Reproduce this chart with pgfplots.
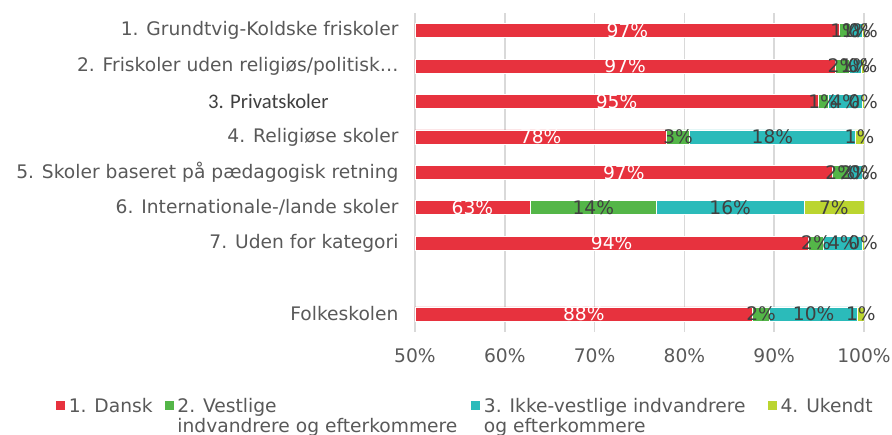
\documentclass[border=0pt]{standalone}
\usepackage{fontspec}
\setmainfont{DejaVu Sans}
\newfontfamily\carlito{Carlito}
\usepackage{pgfplots}
\usepackage{pgfplotstable}
\pgfplotsset{compat=1.18}

\definecolor{cDan}{HTML}{E7323E}
\definecolor{cVest}{HTML}{54B648}
\definecolor{cIkke}{HTML}{2BBBBA}
\definecolor{cUkendt}{HTML}{BBD530}
\definecolor{gridgray}{HTML}{D9D9D9}
\definecolor{txtgray}{HTML}{595959}
\definecolor{lblgray}{HTML}{404040}

% shares in percent, row 9 = top (1. Grundtvig), row 1 = Folkeskolen
\pgfplotstableread{
y dan  vest ikke ukendt
9 97.3 1.2  1.3  0.2
8 96.8 1.6  1.3  0.3
7 94.9 1.1  3.8  0.2
6 78.0 2.6  18.4 1.0
5 96.5 1.7  1.6  0.2
4 62.8 14.1 16.4 6.7
3 93.8 1.7  4.3  0.2
1 87.6 1.9  9.8  0.7
}\shares

% label positions (centre of the visible segment) and label text
\pgfplotstableread{
y xd    td xv    tv xi    ti xu    tu
9 73.65 97 97.9  1  99.15 1  99.9  0
8 73.4  97 97.6  2  99.05 1  99.85 0
7 72.45 95 95.45 1  97.9  4  99.9  0
6 64.0  78 79.3  3  89.8  18 99.5  1
5 73.25 97 97.35 2  99.0  2  99.9  0
4 56.4  63 69.85 14 85.1  16 96.65 7
3 71.9  94 94.65 2  97.65 4  99.9  0
1 68.8  88 88.55 2  94.4  10 99.65 1
}\labels

\begin{document}
\begin{tikzpicture}
\pgfplotsset{
  base/.style={scale only axis, width=449pt, height=318.5pt,
    xmin=50, xmax=100, ymin=0.5, ymax=9.5,
    at={(0,0)}, anchor=south west},
  lbl/.style={draw=none, nodes near coords={\pgfplotspointmeta\%},
    point meta=explicit symbolic,
    every node near coord/.append style={anchor=center, inner sep=0pt,
      font=\fontsize{18.67}{22}\selectfont, text=#1}},
}
\begin{axis}[base,
  xbar stacked, bar width=14pt,
  axis line style={draw=none}, major tick length=0pt,
  xmajorgrids, grid style={line width=1.5pt, gridgray},
  xtick={50,60,...,100},
  xticklabel={\pgfmathprintnumber{\tick}\%},
  /pgf/number format/assume math mode=true,
  ytick={1,3,4,5,6,7,8,9},
  yticklabels={Folkeskolen, 7. Uden for kategori, 6. Internationale-/lande skoler,
    5. Skoler baseret på pædagogisk retning, 4. Religiøse skoler,
    {\carlito\fontsize{20.7}{24}\selectfont\color{lblgray}3. Privatskoler\rule{70pt}{0pt}},
    2. Friskoler uden religiøs/politisk…, 1. Grundtvig-Koldske friskoler},
  tick label style={font=\fontsize{18.67}{22}\selectfont, text=txtgray},
  xticklabel style={yshift=-14pt},
  yticklabel style={xshift=-13pt},
  legend columns=4,
  legend style={at={(-0.8018,-0.2015)}, anchor=north west, draw=none,
    font=\fontsize{18.67}{20}\selectfont, text=txtgray,
    inner sep=0pt, column sep=0pt, cells={anchor=base west, inner sep=0pt}},
  legend image code/.code={\fill[#1] (0pt,2pt) rectangle (10pt,12pt);},
]
\addplot[fill=cDan, draw=white, line width=0.6pt] table[x=dan, y=y] {\shares};
\addlegendentry{\hspace{1pt}\makebox[93pt][l]{1. Dansk}}
\addplot[fill=cVest, draw=white, line width=0.6pt] table[x=vest, y=y] {\shares};
\addlegendentry{\hspace{1pt}\parbox[t]{291pt}{2. Vestlige\\indvandrere og efterkommere}}
\addplot[fill=cIkke, draw=white, line width=0.6pt] table[x=ikke, y=y] {\shares};
\addlegendentry{\hspace{1pt}\parbox[t]{281pt}{3. Ikke-vestlige indvandrere\\og efterkommere}}
\addplot[fill=cUkendt, draw=white, line width=0.6pt] table[x=ukendt, y=y] {\shares};
\addlegendentry{\hspace{1pt}4. Ukendt}
\end{axis}
\begin{axis}[base, hide axis, clip=false]
\addplot[lbl=white] table[x=xd, y=y, meta=td] {\labels};
\addplot[lbl=lblgray] table[x=xv, y=y, meta=tv] {\labels};
\addplot[lbl=lblgray] table[x=xi, y=y, meta=ti] {\labels};
\addplot[lbl=lblgray] table[x=xu, y=y, meta=tu] {\labels};
\end{axis}
\pgfresetboundingbox
\path (-415pt,-103.3pt) rectangle (477pt,331.5pt);
\end{tikzpicture}
\end{document}
